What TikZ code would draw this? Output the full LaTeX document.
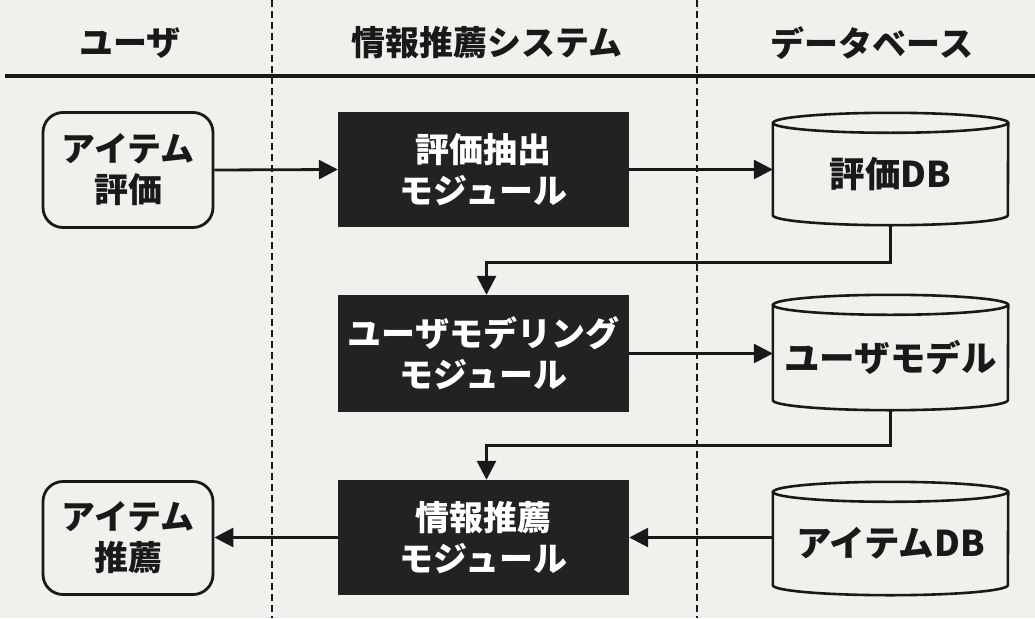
\documentclass[tikz,border=0pt]{standalone}
\usepackage{fontspec}
\setmainfont{Noto Sans CJK JP}
\usetikzlibrary{arrows.meta,calc}
\definecolor{paper}{RGB}{240,241,237}
\definecolor{ink}{RGB}{25,25,25}
\definecolor{boxfill}{RGB}{34,34,34}
\tikzset{
  txt/.style={font=\fontsize{34}{41}\selectfont\bfseries, text=ink, align=center, inner sep=0pt},
  dbtxt/.style={txt, font=\fontsize{35.5}{41}\selectfont\bfseries},
  userbox/.style={txt, draw=ink, line width=2.8pt, rounded corners=20pt, fill=paper, minimum width=170pt, minimum height=115pt},
  modbox/.style={txt, text=white, fill=boxfill, draw=none, minimum width=291pt, minimum height=115pt},
  dbbox/.style={inner sep=0pt, minimum width=235pt, minimum height=113pt},
  conn/.style={draw=ink, line width=2.8pt, -{Triangle[length=19pt,width=19pt]}},
  lane/.style={draw=ink, line width=1.8pt, dash pattern=on 7pt off 4pt},
}
\begin{document}
\begin{tikzpicture}[x=1pt,y=-1pt]
\useasboundingbox[fill=paper] (0,0) rectangle (1035,618);
% lanes
\draw[lane] (272,0) -- (272,618);
\draw[lane] (697,0) -- (697,618);
\draw[draw=ink, line width=4pt] (5,76) -- (1035,76);
% headers
\node[txt] (h1) at (130,43) {ユーザ};
\node[txt] (h2) at (487,43) {情報推薦システム};
\node[txt] (h3) at (872,43) {データベース};
% user boxes
\node[userbox] (u1) at (128,170) {アイテム\\評価};
\node[userbox, minimum height=113pt] (u2) at (128,538) {アイテム\\推薦};
% modules
\node[modbox] (m1) at (483.5,169.5) {評価抽出\\モジュール};
\node[modbox, minimum height=117pt] (m2) at (483.5,353.5) {ユーザモデリング\\モジュール};
\node[modbox] (m3) at (483.5,537.5) {情報推薦\\モジュール};
% databases
\node[dbbox, minimum height=112pt] (d1) at (890.5,169) {};
\node[dbbox, minimum height=115pt] (d2) at (890.5,352.5) {};
\node[dbbox] (d3) at (890.5,538.5) {};
\foreach \n/\t in {d1/評価DB, d2/ユーザモデル, d3/アイテムDB} {
  \filldraw[fill=paper, draw=ink, line width=2.6pt]
    ($(\n.north west)+(0,10)$) -- ($(\n.south west)+(0,-10)$)
    arc[start angle=180, end angle=360, x radius=117.5pt, y radius=10pt]
    -- ($(\n.north east)+(0,10)$)
    arc[start angle=0, end angle=180, x radius=117.5pt, y radius=10pt] -- cycle;
  \draw[draw=ink, line width=2.6pt] ($(\n.north west)+(0,10)$)
    arc[start angle=180, end angle=360, x radius=117.5pt, y radius=10pt];
  \node[dbtxt] at ($(\n.center)+(0,5)$) {\t};
}
% connectors
\draw[conn] (u1.east) -- (m1.west);
\draw[conn] (m1.east) -- (d1.west |- m1.east);
\draw[conn] (d1.south) -- ++(0,37) -| ($(m2.north)+(3,0)$);
\draw[conn] (m2.east) -- (d2.west |- m2.east);
\draw[conn] (d2.south) -- ++(0,35) -| ($(m3.north)+(3,0)$);
\draw[conn] (d3.west |- m3.east) -- (m3.east);
\draw[conn] (m3.west) -- (u2.east |- m3.west);
\end{tikzpicture}
\end{document}
